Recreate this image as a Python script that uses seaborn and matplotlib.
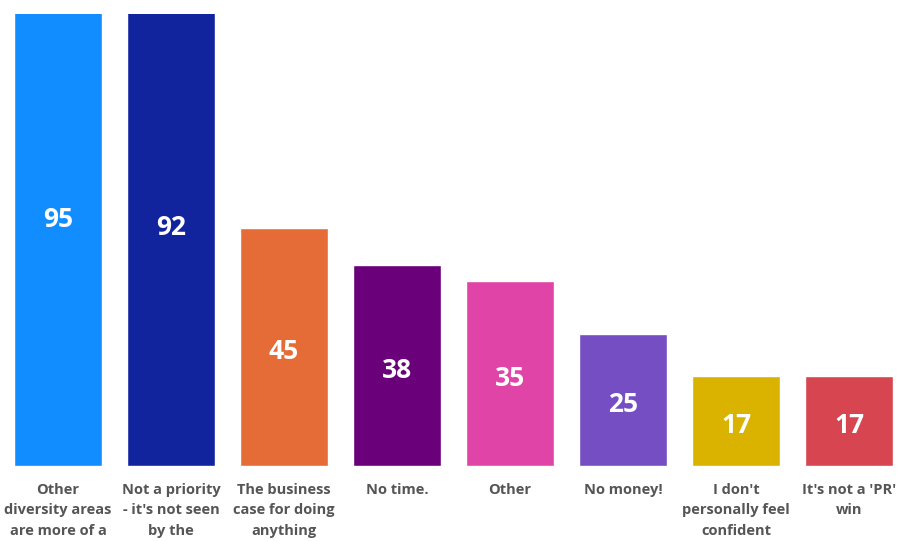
import matplotlib
matplotlib.use("Agg")
import matplotlib.pyplot as plt
import seaborn as sns
import pandas as pd

categories = [
    "Other\ndiversity areas\nare more of a",
    "Not a priority\n- it's not seen\nby the",
    "The business\ncase for doing\nanything",
    "No time.",
    "Other",
    "No money!",
    "I don't\npersonally feel\nconfident",
    "It's not a 'PR'\nwin",
]
values = [95, 92, 45, 38, 35, 25, 17, 17]
colors = ["#118DFF", "#12239E", "#E66C37", "#6B007B",
          "#E044A7", "#744EC2", "#D9B300", "#D64550"]

sns.set_theme(style="white")
plt.rcParams["font.family"] = ["Open Sans", "DejaVu Sans"]

df = pd.DataFrame({"cat": categories, "val": values})

fig = plt.figure(figsize=(9, 5.41), dpi=100)
ax = fig.add_axes([0, (541 - 466) / 541, 1, 452 / 541])
sns.barplot(data=df, x="cat", y="val", hue="cat", palette=colors,
            legend=False, width=0.78, saturation=1, ax=ax)

ax.set_xlim(-58 / 113, (900 - 58) / 113)
ax.set_ylim(0, 452 / 5.29)
for i, v in enumerate(values):
    ax.annotate(str(v), xy=(i, v / 2), xytext=(0, -3.5),
                textcoords="offset points", ha="center", va="center",
                color="white", fontsize=19, fontweight="bold",
                annotation_clip=False)

ax.set_xlabel("")
ax.set_ylabel("")
ax.set_yticks([])
ax.tick_params(axis="x", length=0, pad=12)
for lbl in ax.get_xticklabels():
    lbl.set_fontsize(10.5)
    lbl.set_fontweight("bold")
    lbl.set_color("#555555")
    lbl.set_linespacing(1.6)
sns.despine(ax=ax, left=True, bottom=True)

fig.savefig("out.png", dpi=100)
